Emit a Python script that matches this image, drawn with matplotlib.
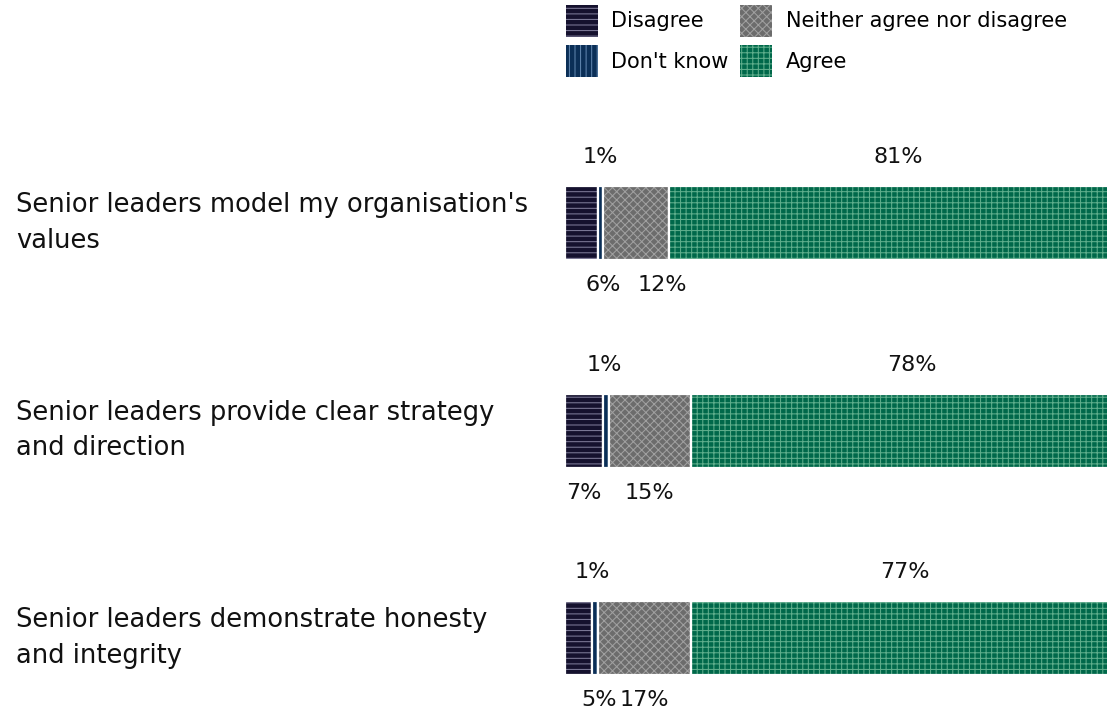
import matplotlib
matplotlib.use("Agg")
import matplotlib.pyplot as plt
from matplotlib.patches import Patch
import numpy as np

categories = [
    "Senior leaders model my organisation's\nvalues",
    "Senior leaders provide clear strategy\nand direction",
    "Senior leaders demonstrate honesty\nand integrity",
]
series_names = ["Disagree", "Don't know", "Neither agree nor disagree", "Agree"]
disagree = [6, 7, 5]
dont_know = [1, 1, 1]
neither = [12, 15, 17]
agree = [81, 78, 77]
values = [disagree, dont_know, neither, agree]
labels_above = [False, True, False, True]

face_colors = ["#15112e", "#0b2f57", "#6c6c6c", "#00684a"]
hatch_colors = ["#7d7a98", "#5f84ad", "#a0a0a0", "#5fae8c"]
hatches = ["---", "|||", "xxxx", "+++"]

# label offsets in pixels (x) for readability
label_dx = [
    [22, 0, 26, 8],
    [0, -2, 0, 8],
    [20, -3, 0, 4],
]

plt.rcParams["font.family"] = ["DejaVu Sans"]
plt.rcParams["hatch.linewidth"] = 0.75

W, H = 1107, 712
fig = plt.figure(figsize=(W / 100, H / 100), dpi=100)
ax_left = 565 / W
ax = fig.add_axes([ax_left, 0, 1 - ax_left, 592 / H])
ax.set_xlim(0, 99.1)
ax.set_ylim(2.357, -0.4976)
ax.axis("off")

bar_h = 0.357
y = np.arange(len(categories))
left = np.zeros(len(categories))
handles = []
for k, name in enumerate(series_names):
    vals = np.array(values[k], dtype=float)
    ax.barh(y, vals, left=left, height=bar_h, color=face_colors[k],
            edgecolor=hatch_colors[k], hatch=hatches[k], linewidth=0)
    ax.barh(y, vals, left=left, height=bar_h, fill=False,
            edgecolor="white", linewidth=1.6)
    for i in range(len(categories)):
        cx = left[i] + vals[i] / 2
        if labels_above[k]:
            yy = y[i] - bar_h / 2
            dy = 29
        else:
            yy = y[i] + bar_h / 2
            dy = -25
        ax.annotate(f"{int(vals[i])}%", (cx, yy), xytext=(label_dx[i][k] * 0.72, dy * 0.72),
                    textcoords="offset points", ha="center", va="center",
                    fontsize=16, color="#111111", annotation_clip=False)
    left += vals
    handles.append(Patch(facecolor=face_colors[k], edgecolor=hatch_colors[k],
                         hatch=hatches[k], linewidth=0, label=name))

for i, cat in enumerate(categories):
    ax.annotate(cat, xy=(0, y[i]), xycoords=("figure fraction", "data"),
                xytext=(16 * 0.72, 0), textcoords="offset points",
                fontsize=18.5, color="#111111", ha="left", va="center",
                linespacing=1.49, annotation_clip=False)

fig.legend(handles=handles, ncols=2, loc="upper left",
           bbox_to_anchor=(553 / W, 1.011), frameon=False, fontsize=15,
           handlelength=1.55, handleheight=2.0, handletextpad=0.65,
           columnspacing=0.55, labelspacing=0.4, borderaxespad=0.2)

fig.savefig("out.png", dpi=100)
